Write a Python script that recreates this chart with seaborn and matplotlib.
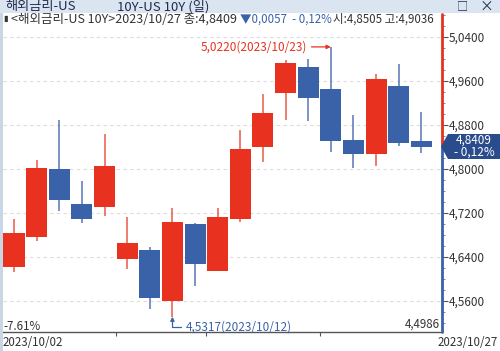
import numpy as np
import pandas as pd
import seaborn as sns
import matplotlib
matplotlib.use("Agg")
import matplotlib.pyplot as plt
from matplotlib.patches import Polygon, Rectangle
import matplotlib.transforms as mtransforms

# ---------------- data ----------------
dates = ["2023/10/02", "2023/10/03", "2023/10/04", "2023/10/05", "2023/10/06",
         "2023/10/10", "2023/10/11", "2023/10/12", "2023/10/13",
         "2023/10/16", "2023/10/17", "2023/10/18", "2023/10/19", "2023/10/20",
         "2023/10/23", "2023/10/24", "2023/10/25", "2023/10/26", "2023/10/27"]
opens = [4.6218, 4.6769, 4.7995, 4.7369, 4.7304, 4.6358, 4.6527, 4.5605, 4.7005,
         4.6145, 4.7091, 4.8395, 4.9376, 4.9849, 4.9460, 4.8527, 4.8273, 4.9515, 4.8505]
highs = [4.7085, 4.8164, 4.8891, 4.7782, 4.8636, 4.7122, 4.6587, 4.7291, 4.7024,
         4.7291, 4.8709, 4.9358, 4.9982, 5.0000, 5.0220, 4.8982, 4.9722, 4.9909, 4.9036]
lows = [4.6122, 4.6696, 4.7236, 4.7013, 4.7145, 4.6176, 4.5449, 4.5317, 4.5873,
        4.6140, 4.7042, 4.8122, 4.8891, 4.8873, 4.8315, 4.8013, 4.8055, 4.8424, 4.8285]
closes = [4.6842, 4.8013, 4.7436, 4.7082, 4.8049, 4.6655, 4.5655, 4.7031, 4.6267,
          4.7133, 4.8355, 4.9013, 4.9922, 4.9285, 4.8505, 4.8273, 4.9636, 4.8467, 4.8409]
yticks = [4.56, 4.64, 4.72, 4.80, 4.88, 4.96, 5.04]
week_ticks = [4.5, 8.5, 13.5]

df = pd.DataFrame({"date": dates, "open": opens, "high": highs, "low": lows, "close": closes})
df["idx"] = np.arange(len(df))
df["up"] = df["close"] >= df["open"]

RED = "#e8321f"
BLUE = "#3a62a8"
RED_W = "#e85a47"
BLUE_W = "#5676b5"
DARK = "#333333"

sns.set_style("white")
plt.rcParams["font.family"] = ["Noto Sans CJK KR", "DejaVu Sans"]

W, H = 500, 351
fig = plt.figure(figsize=(5.0, 3.51), dpi=100)
fx = lambda x: x / W
fy = lambda y: 1 - y / H

ax = fig.add_axes([fx(3), fy(332), fx(442) - fx(3), fy(14) - fy(332)])
ylo = 4.88 - (332 - 125) / 550
yhi = 4.88 + (125 - 14) / 550
ax.set_ylim(ylo, yhi)
ax.set_xlim((3 - 14) / 22.63, (442 - 14) / 22.63)

# grid
for v in yticks:
    ax.axhline(v, color="#dcdcdc", lw=0.8, ls=(0, (3, 3)), zorder=0)

# wicks
colors_b = np.where(df["up"], RED, BLUE)
colors_w = np.where(df["up"], RED_W, BLUE_W)
ax.vlines(df["idx"], df["low"], df["high"], colors=colors_w, lw=1.1, zorder=1)
# bodies
bottoms = np.minimum(df["open"], df["close"])
heights = np.maximum(np.abs(df["close"] - df["open"]), 0.0012)
ax.bar(df["idx"], heights, bottom=bottoms, width=0.93, color=colors_b,
       edgecolor="none", zorder=2)

# spines / axes
for s in ["top", "left", "right"]:
    ax.spines[s].set_visible(False)
ax.spines["bottom"].set_color("#555555")
ax.spines["bottom"].set_linewidth(1.0)
ax.set_xticks(week_ticks)
ax.set_xticklabels([])
ax.tick_params(axis="x", direction="out", length=3, width=0.8, color="#555555", bottom=True)

ax.yaxis.tick_right()
ax.set_yticks(yticks)
ax.set_yticklabels([f"{v:.4f}".replace(".", ",") for v in yticks])
ax.set_yticks(np.arange(4.52, 5.08, 0.02), minor=True)
ax.tick_params(axis="y", which="major", direction="out", length=4, width=0.8,
               color="#555555", labelsize=8.5, labelcolor=DARK, pad=1, right=True)
ax.tick_params(axis="y", which="minor", direction="out", length=2, width=0.6,
               color="#777777", right=True)

# right axis line: red above last close, blue below
last = closes[-1]
frac = (last - ylo) / (yhi - ylo)
xr = ax.get_xlim()[1]
ax.axvline(xr, ymin=frac, ymax=1, color=RED, lw=2.0, clip_on=False, zorder=5)
ax.axvline(xr, ymin=0, ymax=frac, color=BLUE, lw=2.0, clip_on=False, zorder=5)

# high / low annotations
ih = int(np.argmax(highs))
il = int(np.argmin(lows))
ax.annotate(f"{highs[ih]:.4f}".replace(".", ",") + f"({dates[ih]})",
            xy=(ih, highs[ih]), xytext=(-24, 0), textcoords="offset pixels",
            ha="right", va="center", color=RED, fontsize=8.5,
            arrowprops=dict(arrowstyle="-|>", color=RED, lw=0.9, shrinkA=1, shrinkB=0,
                            mutation_scale=6))
ax.annotate(f"{lows[il]:.4f}".replace(".", ",") + f"({dates[il]})",
            xy=(il, lows[il]), xytext=(13, -10), textcoords="offset pixels",
            ha="left", va="center", color=BLUE, fontsize=8.5, annotation_clip=False,
            arrowprops=dict(arrowstyle="-|>", color=BLUE, lw=0.9, shrinkA=1, shrinkB=0,
                            mutation_scale=6,
                            connectionstyle="angle,angleA=0,angleB=90,rad=0"))

# price tag
blend = mtransforms.blended_transform_factory(fig.transFigure, ax.transData)
tag_h = 12.5 / 550
tag = Polygon([(fx(441), last), (fx(448), last + tag_h), (fx(500), last + tag_h),
               (fx(500), last - tag_h), (fx(448), last - tag_h)],
              closed=True, transform=blend, facecolor="#2b4c8c", edgecolor="none",
              clip_on=False, zorder=6)
fig.patches.append(tag)
fig.text(fx(474), fy(140), "4,8409", ha="center", va="center", color="white",
         fontsize=8.5, zorder=8)
fig.text(fx(474), fy(152), "- 0,12%", ha="center", va="center", color="white",
         fontsize=8.5, zorder=8)

# window chrome
fig.patches.append(Rectangle((0, fy(13)), 1, 13 / H, transform=fig.transFigure,
                             facecolor="#dbe5f1", edgecolor="none", zorder=0))
fig.patches.append(Rectangle((0, 0), fx(3), fy(13), transform=fig.transFigure,
                             facecolor="#c9d6e6", edgecolor="none", zorder=0))
fig.text(fx(5), fy(6.5), "해외금리-US", ha="left", va="center", color="#1f2c4c", fontsize=9.5)
fig.text(fx(117), fy(6.5), "10Y-US 10Y (일)", ha="left", va="center", color="#1f2c4c", fontsize=9.5)
fig.text(fx(462), fy(6.5), "□", ha="center", va="center", color="#1f2c4c", fontsize=8)
fig.text(fx(486), fy(6.5), "×", ha="center", va="center", color="#1f2c4c", fontsize=10)

# info line
fig.text(fx(3), fy(19), "▮", ha="left", va="center", color=DARK, fontsize=6)
fig.text(fx(237), fy(19), "<해외금리-US 10Y>2023/10/27 종:4,8409", ha="right", va="center",
         color=DARK, fontsize=9)
fig.text(fx(240), fy(19), "▼0,0057  - 0,12%", ha="left", va="center", color=BLUE, fontsize=8.3)
fig.text(fx(333), fy(19), "시:4,8505 고:4,9036", ha="left", va="center", color=DARK, fontsize=8.3)

# bottom labels
fig.text(fx(3), fy(326), "-7.61%", ha="left", va="center", color=DARK, fontsize=8.3)
fig.text(fx(440), fy(324), "4,4986", ha="right", va="center", color=DARK, fontsize=8.3)
fig.text(fx(3), fy(342), dates[0], ha="left", va="center", color=DARK, fontsize=8.3)
fig.text(fx(498), fy(342), dates[-1], ha="right", va="center", color=DARK, fontsize=8.3)

fig.savefig("out.png", dpi=100)
